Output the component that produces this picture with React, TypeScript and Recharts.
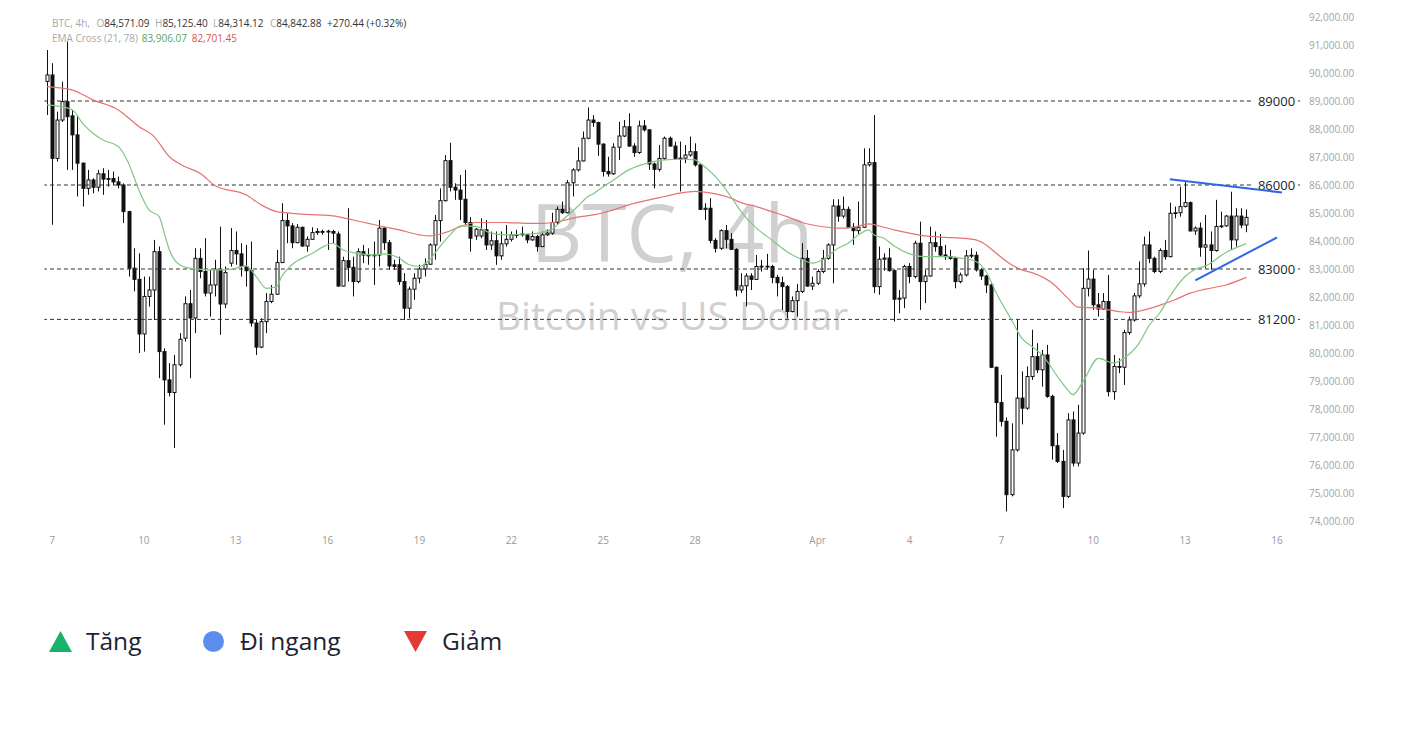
import React from 'react';
import { ComposedChart, Bar, Line, XAxis, YAxis, ReferenceLine } from 'recharts';

// ---------- data ----------
// 4h candles, [open, high, low, close], starting 6 Mar 20:00
const candleOHLC: [number, number, number, number][] = [
  [89700, 90820, 88500, 89930], [89930, 90350, 84580, 86950], [86950, 88620, 86840, 88320], [88320, 89690, 88250, 88980],
  [88980, 91120, 86540, 88440], [88470, 88680, 86540, 87790], [87790, 88500, 85590, 86780], [86780, 86800, 85230, 85880],
  [85880, 86540, 85650, 86180], [86180, 86240, 85700, 85920], [85920, 86540, 85770, 86400], [86400, 86600, 85650, 86210],
  [86210, 86540, 85940, 86230], [86230, 86480, 86000, 86110], [86110, 86300, 85880, 86000], [86000, 86060, 84640, 85050],
  [85050, 85080, 82730, 83030], [83030, 83740, 82200, 82630], [82630, 83560, 80000, 80680], [80680, 82730, 80050, 82020],
  [82020, 82730, 81660, 82250], [82250, 84040, 81180, 83620], [83620, 83800, 79100, 80050], [80050, 80170, 77440, 79040],
  [79040, 79640, 78450, 78590], [78590, 79930, 76610, 79580], [79580, 80710, 79520, 80490], [80530, 82020, 80410, 81760],
  [81760, 82250, 79100, 81250], [81250, 83740, 80710, 83380], [83380, 83740, 82670, 82910], [82910, 84100, 82020, 82140],
  [82140, 82970, 81300, 82430], [82430, 83330, 82020, 82990], [82990, 84510, 80650, 81750], [81750, 83090, 81600, 82870],
  [83210, 84460, 83090, 83660], [83660, 84340, 83150, 83540], [83540, 83920, 82730, 83090], [83090, 83860, 82370, 82940],
  [82940, 83980, 80940, 81070], [81070, 81180, 79930, 80210], [80210, 81240, 80170, 81120], [81120, 82140, 80710, 81840],
  [81840, 82430, 81780, 82100], [82100, 83680, 82080, 83230], [83230, 85350, 83210, 84730], [84730, 84990, 83920, 84540],
  [84540, 84640, 83740, 83940], [83940, 84610, 83920, 84490], [84490, 84510, 83800, 83820], [83820, 84160, 83620, 84060],
  [84060, 84490, 84040, 84300], [84300, 84460, 84220, 84340], [84340, 84400, 84220, 84330], [84330, 84400, 83680, 84350],
  [84340, 84400, 83920, 84280], [84250, 84340, 82370, 82390], [82390, 83440, 82370, 83300], [83300, 85170, 82550, 83060],
  [83060, 83440, 82020, 82550], [82550, 83740, 82490, 83620], [83620, 83860, 83210, 83500], [83500, 83740, 83150, 83480],
  [83480, 83980, 82430, 83500], [83500, 84750, 83090, 84460], [84460, 84490, 83680, 83940], [83940, 84040, 82970, 83110],
  [83150, 83330, 82970, 83090], [83150, 83440, 82430, 82550], [82550, 82850, 81180, 81600], [81600, 82370, 81240, 82280],
  [82280, 82850, 81900, 82670], [82670, 83150, 82490, 83000], [83000, 83380, 82730, 83170], [83170, 83920, 83150, 83860],
  [83860, 84930, 83330, 84730], [84730, 85880, 83980, 85440], [85440, 87070, 85410, 86870], [86870, 87510, 85770, 85920],
  [85920, 86060, 85470, 85820], [85820, 86360, 84750, 85490], [85490, 86540, 84580, 84660], [84660, 84850, 83620, 84100],
  [84180, 84460, 84040, 84420], [84180, 84810, 84100, 84400], [84400, 84750, 83680, 83860], [83860, 84340, 83680, 84010],
  [84010, 84340, 83150, 83470], [83470, 84340, 83330, 83900], [83900, 84570, 83800, 84060], [84060, 84340, 83980, 84220],
  [84220, 84400, 84100, 84230], [84230, 84510, 84160, 84250], [84220, 84250, 83920, 84040], [84040, 84340, 84010, 84160],
  [84160, 84220, 83620, 83800], [83800, 84340, 83790, 84220], [84220, 84400, 84180, 84280], [84280, 85010, 84220, 84660],
  [84660, 85230, 84580, 85130], [85130, 85410, 84970, 85010], [85010, 86180, 84990, 86080], [86080, 86600, 85590, 86540],
  [86540, 87350, 86480, 86860], [86860, 87910, 86840, 87670], [87670, 88770, 87630, 88320], [88320, 88500, 88080, 88230],
  [88230, 88260, 87040, 87460], [87460, 87490, 86300, 86480], [86480, 87010, 86300, 86400], [86400, 87490, 86360, 87350],
  [87350, 88260, 86890, 87750], [87750, 88320, 87710, 88080], [88080, 88560, 87370, 87390], [87390, 87490, 87010, 87160],
  [87160, 88300, 87110, 88110], [88110, 88320, 87910, 87970], [87970, 87990, 86540, 86750], [86750, 86800, 85880, 86560],
  [86560, 87430, 86480, 86950], [86950, 87730, 86890, 87670], [87670, 87730, 87370, 87390], [87390, 87550, 86890, 86950],
  [86950, 87550, 85770, 86960], [86960, 87430, 86780, 87070], [87070, 87730, 87010, 87190], [87190, 87490, 86660, 86720],
  [86720, 86780, 85110, 85130], [85130, 85350, 84750, 85170], [85170, 85530, 83920, 84020], [84020, 84100, 83590, 83740],
  [83740, 84420, 83680, 84370], [84370, 84570, 83740, 84060], [84060, 84280, 83680, 83700], [83700, 83740, 82020, 82250],
  [82250, 82850, 82140, 82400], [82400, 82850, 81660, 82750], [82750, 82850, 82250, 82630], [82630, 83500, 82610, 83090],
  [83090, 83330, 82910, 83100], [83100, 83540, 82970, 83090], [83090, 83150, 82490, 82700], [82700, 82790, 82020, 82510],
  [82510, 82730, 81540, 82370], [82370, 82430, 81240, 81480], [81480, 82020, 81450, 81870], [81870, 82470, 81300, 82200],
  [82200, 83920, 82140, 83380], [83380, 83680, 82370, 82390], [82390, 82730, 82250, 82490], [82490, 82990, 82430, 82910],
  [82910, 83680, 82850, 83380], [83380, 83920, 83330, 83860], [83860, 85490, 82490, 85250], [85250, 85490, 84690, 84890],
  [84890, 85590, 84810, 85130], [85130, 85230, 84460, 84490], [84490, 84640, 83860, 84370], [84370, 85410, 84250, 84490],
  [84490, 87310, 84460, 86720], [86720, 87310, 86660, 86800], [86800, 88500, 82140, 82370], [82370, 83800, 82080, 83350],
  [83350, 83560, 82940, 83390], [83390, 83740, 82910, 82940], [82940, 82990, 81120, 81920], [81920, 82250, 81420, 81960],
  [81960, 83150, 81600, 83090], [83090, 83210, 82490, 82730], [82730, 84010, 82670, 83920], [83920, 84690, 81540, 82550],
  [82550, 82970, 81780, 82750], [82750, 84510, 82730, 83940], [83940, 84340, 83620, 83800], [83800, 84250, 83440, 83500],
  [83500, 83860, 83330, 83440], [83440, 83680, 83330, 83380], [83380, 83440, 82310, 82550], [82550, 82870, 82490, 82790],
  [82790, 83680, 82730, 83470], [83470, 83740, 83390, 83490], [83490, 83620, 82910, 82970], [82970, 83030, 82610, 82750],
  [82750, 82790, 82140, 82430], [82430, 82490, 79460, 79490], [79490, 79520, 77010, 78230], [78230, 79220, 77380, 77560],
  [77560, 77700, 74340, 74940], [74940, 77490, 74880, 76540], [76540, 81180, 76480, 78390], [78390, 79340, 77450, 78030],
  [78030, 79520, 77970, 79160], [79160, 80830, 79040, 79870], [79870, 80350, 79280, 79400], [79400, 80110, 78800, 79930],
  [79930, 80290, 78400, 78450], [78450, 78510, 76190, 76690], [76690, 77140, 76070, 76130], [76130, 76540, 74460, 74880],
  [74880, 77850, 74820, 77610], [77610, 77910, 75950, 76070], [76070, 78150, 75950, 77140], [77140, 83030, 77080, 82310],
  [82310, 83660, 82020, 82640], [82640, 82970, 81540, 81720], [81720, 82140, 81300, 81570], [81570, 82140, 81540, 81840],
  [81840, 82790, 78450, 78620], [78620, 79930, 78330, 79520], [79520, 79810, 79280, 79490], [79490, 80830, 78860, 80730],
  [80730, 81300, 80650, 81180], [81180, 82140, 81120, 82040], [82040, 83270, 81960, 82470], [82470, 84160, 82370, 83860],
  [83860, 84340, 83210, 83380], [83380, 83440, 82850, 82910], [82910, 83740, 82850, 83660], [83660, 84040, 83330, 83440],
  [83440, 85370, 83420, 84990], [84990, 85230, 84810, 85010], [85010, 85940, 84870, 85230], [85230, 86120, 85200, 85370],
  [85370, 85410, 84340, 84360], [84360, 84520, 84220, 84460], [84460, 84660, 83440, 83780], [83780, 84930, 83030, 83860],
  [83860, 84340, 82970, 83660], [83660, 85470, 83620, 84520], [84520, 85050, 84460, 84540], [84540, 84930, 84510, 84890],
  [84890, 85760, 83680, 84040], [84040, 85170, 83800, 84890], [84890, 85170, 84460, 84570], [84571.09, 85125.4, 84314.12, 84842.88],
];

// EMA 21 (green) read at candle indices
const emaFastPoints: [number, number][] = [
  [0, 88860], [2, 88820], [5, 88680], [7, 88200], [9, 87850], [11, 87610], [14, 87370], [16, 86780], [18, 85830],
  [20, 85110], [22, 84870], [23, 84280], [24, 83680], [26, 83150], [28, 83030], [30, 82990], [33, 82970], [36, 82990],
  [39, 83110], [41, 82730], [43, 82310], [45, 82370], [46, 82730], [48, 83150], [52, 83560], [54, 83780], [56, 83920],
  [58, 83680], [61, 83560], [64, 83500], [66, 83540], [69, 83390], [71, 83150], [73, 83090], [75, 83330], [77, 83800],
  [79, 84220], [81, 84540], [84, 84520], [87, 84280], [90, 84220], [94, 84250], [97, 84300], [99, 84420], [101, 84750],
  [104, 85230], [106, 85590], [107, 85680], [109, 85940], [111, 86180], [114, 86540], [118, 86800], [121, 86900],
  [124, 86920], [127, 86900], [128, 86780], [131, 86300], [134, 85590], [136, 85050], [139, 84460], [142, 84040],
  [145, 83620], [148, 83330], [150, 83210], [152, 83330], [155, 83740], [157, 83920], [159, 84220], [161, 84400],
  [162, 84220], [164, 84100], [166, 83820], [169, 83540], [172, 83440], [176, 83440], [179, 83390], [182, 83270],
  [184, 82910], [186, 82140], [189, 81180], [191, 80530], [193, 80230], [195, 79930], [198, 79160], [200, 78680],
  [201, 78510], [203, 78980], [206, 79810], [209, 79640], [211, 79810], [214, 80350], [216, 81000], [218, 81420],
  [220, 82020], [223, 82730], [225, 82990], [227, 83110], [231, 83590], [235, 83906.07],
];

// EMA 78 (red) read at candle indices
const emaSlowPoints: [number, number][] = [
  [0, 89510], [5, 89390], [9, 89040], [14, 88680], [18, 88090], [21, 87730], [24, 87010], [27, 86660], [30, 86420],
  [33, 85970], [39, 85650], [42, 85290], [45, 85050], [48, 84990], [53, 84930], [56, 84900], [60, 84750], [63, 84630],
  [66, 84510], [69, 84400], [73, 84220], [75, 84180], [78, 84300], [81, 84510], [84, 84660], [87, 84660], [90, 84660],
  [94, 84630], [97, 84630], [99, 84660], [101, 84730], [104, 84850], [107, 84930], [109, 85010], [111, 85110],
  [114, 85290], [118, 85470], [121, 85590], [124, 85710], [127, 85770], [131, 85680], [134, 85530], [136, 85370],
  [139, 85230], [142, 85050], [145, 84870], [148, 84660], [152, 84510], [155, 84460], [158, 84490], [161, 84610],
  [164, 84490], [166, 84400], [169, 84280], [172, 84180], [176, 84130], [179, 84100], [182, 84040], [184, 83860],
  [186, 83560], [189, 83150], [191, 82970], [193, 82870], [197, 82490], [200, 81960], [202, 81640], [206, 81600],
  [210, 81480], [212, 81450], [215, 81540], [218, 81700], [221, 81900], [224, 82140], [227, 82280], [231, 82430],
  [235, 82701.45],
];

const dayTickIndex = [1, 19, 37, 55, 73, 91, 109, 127, 151, 169, 187, 205, 223, 241];
const dayTickLabels = ['7', '10', '13', '16', '19', '22', '25', '28', 'Apr', '4', '7', '10', '13', '16'];
const priceTicks = [74000, 75000, 76000, 77000, 78000, 79000, 80000, 81000, 82000, 83000, 84000, 85000, 86000, 87000, 88000, 89000, 90000, 91000, 92000];
const keyLevels = [89000, 86000, 83000, 81200];
const upperTrend = [{ x: 220, y: 86205 }, { x: 242, y: 85730 }];
const lowerTrend = [{ x: 225, y: 82595 }, { x: 241, y: 84125 }];
const legendItems = [
  { label: 'Tăng', kind: 'up' },
  { label: 'Đi ngang', kind: 'flat' },
  { label: 'Giảm', kind: 'down' },
];
const SLOT_COUNT = 246;

// ---------- build rows ----------
const fastMap = new Map(emaFastPoints);
const slowMap = new Map(emaSlowPoints);
const rows = Array.from({ length: SLOT_COUNT }, (_, i) => {
  const k = candleOHLC[i];
  return {
    i,
    o: k ? k[0] : null,
    h: k ? k[1] : null,
    l: k ? k[2] : null,
    c: k ? k[3] : null,
    fast: fastMap.has(i) ? fastMap.get(i) : null,
    slow: slowMap.has(i) ? slowMap.get(i) : null,
  };
});

const FONT = '"Open Sans", "Noto Sans", sans-serif';

const Candle = (props: any) => {
  const { x, y, width, height, payload } = props;
  if (!payload || payload.h == null || x == null || isNaN(y)) return <g />;
  const { o, h, l, c } = payload;
  const top = Math.min(y, y + height);
  const hgt = Math.abs(height);
  const k = h - l > 0 ? hgt / (h - l) : 0;
  const yO = top + (h - o) * k;
  const yC = top + (h - c) * k;
  const cx = Math.round(x + width / 2) + 0.5;
  const up = c >= o;
  const bTop = Math.min(yO, yC);
  const bH = Math.max(Math.abs(yO - yC), 0.8);
  return (
    <g>
      <line x1={cx} x2={cx} y1={top} y2={top + hgt} stroke="#111" strokeWidth={1} />
      <rect x={cx - 1.5} y={bTop} width={3} height={bH} fill={up ? '#fff' : '#111'} stroke="#111" strokeWidth={1} />
    </g>
  );
};

const LevelTag = (props: any) => {
  const vb = props.viewBox || {};
  const right = (vb.x ?? 0) + (vb.width ?? 0);
  const y = vb.y ?? 0;
  return (
    <g>
      <rect x={right - 47} y={y - 8} width={45} height={16} fill="#fff" />
      <text x={right - 42} y={y + 4.5} fontSize={13} fill="#222" fontFamily={FONT}>{props.text}</text>
    </g>
  );
};

const XTick = (props: any) => {
  const { x, y, payload } = props;
  const idx = dayTickIndex.indexOf(payload.value);
  return (
    <text x={x} y={y + 16} textAnchor="middle" fontSize={10} fill="#9a9a9a" fontFamily={FONT}>
      {idx >= 0 ? dayTickLabels[idx] : ''}
    </text>
  );
};

const YTick = (props: any) => {
  const { x, y, payload } = props;
  const v = Number(payload.value);
  return (
    <text x={x} y={y + 3.5} textAnchor="start" fontSize={10} fill="#a3a3a3" fontFamily={FONT}>
      {v.toLocaleString('en-US', { minimumFractionDigits: 2, maximumFractionDigits: 2 })}
    </text>
  );
};

export default function App() {
  return (
    <div style={{ position: 'relative', width: 1386, height: 714, fontFamily: FONT }}>
      <svg width={1386} height={560} style={{ position: 'absolute', left: 0, top: 0 }}>
        <text x={664} y={254} textAnchor="middle" fontSize={80} fill="#d0d0d0" fontFamily={FONT}>BTC, 4h</text>
        <text x={664} y={322} textAnchor="middle" fontSize={39} fill="#d0d0d0" fontFamily={FONT}>Bitcoin vs US Dollar</text>
      </svg>
      <div style={{ position: 'absolute', left: 0, top: 0 }}>
        <ComposedChart
          width={1386}
          height={560}
          data={rows}
          margin={{ top: 2, right: 14.05, bottom: 10, left: 36.35 }}
          barCategoryGap={0}
        >
          <XAxis
            dataKey="i"
            type="category"
            ticks={dayTickIndex}
            interval={0}
            tick={<XTick />}
            tickSize={0}
            tickMargin={0}
            axisLine={false}
            tickLine={false}
            height={30}
          />
          <YAxis
            orientation="right"
            type="number"
            domain={[73750, 92250]}
            ticks={priceTicks}
            allowDataOverflow
            tick={<YTick />}
            tickSize={0}
            tickMargin={9}
            axisLine={false}
            tickLine={false}
            width={80}
          />
          {keyLevels.map((lvl) => (
            <ReferenceLine
              key={lvl}
              y={lvl}
              stroke="#333"
              strokeWidth={1}
              strokeDasharray="4 3"
              label={<LevelTag text={String(lvl)} />}
            />
          ))}
          <Line dataKey="slow" type="monotone" stroke="#e57373" strokeWidth={1.2} dot={false} activeDot={false} connectNulls isAnimationActive={false} />
          <Line dataKey="fast" type="monotone" stroke="#81c784" strokeWidth={1.2} dot={false} activeDot={false} connectNulls isAnimationActive={false} />
          <Bar
            dataKey={(d: any) => (d.h == null ? null : [d.l, d.h])}
            shape={<Candle />}
            isAnimationActive={false}
          />
          <ReferenceLine segment={upperTrend} stroke="#2e67e6" strokeWidth={2} ifOverflow="visible" />
          <ReferenceLine segment={lowerTrend} stroke="#2e67e6" strokeWidth={2} ifOverflow="visible" />
        </ComposedChart>
      </div>
      <svg width={1386} height={714} style={{ position: 'absolute', left: 0, top: 0, pointerEvents: 'none' }}>
        <text y={19} fontSize={10} fontFamily={FONT}>
          <tspan x={44} fill="#a8a8a8">BTC, 4h,</tspan>
          <tspan x={88.5} fill="#a8a8a8">O</tspan><tspan fill="#333">84,571.09</tspan>
          <tspan x={147} fill="#a8a8a8">H</tspan><tspan fill="#333">85,125.40</tspan>
          <tspan x={205} fill="#a8a8a8">L</tspan><tspan fill="#333">84,314.12</tspan>
          <tspan x={262} fill="#a8a8a8">C</tspan><tspan fill="#333">84,842.88</tspan>
          <tspan x={319} fill="#333">+270.44 (+0.32%)</tspan>
        </text>
        <text y={33.7} fontSize={10} fontFamily={FONT}>
          <tspan x={44} fill="#a8a8a8">EMA Cross (21, 78)</tspan>
          <tspan x={133.7} fill="#5aa463">83,906.07</tspan>
          <tspan x={183.7} fill="#d9534f">82,701.45</tspan>
        </text>
        {legendItems.map((it, k) => {
          const iconX = [41, 195, 396][k];
          const textX = [78, 232, 434][k];
          return (
            <g key={it.label}>
              {it.kind === 'up' && <polygon points={`${iconX},644 ${iconX + 23},644 ${iconX + 11.5},623`} fill="#16b46a" />}
              {it.kind === 'flat' && <circle cx={iconX + 10.5} cy={633.5} r={10.5} fill="#5b8def" />}
              {it.kind === 'down' && <polygon points={`${iconX},623 ${iconX + 23},623 ${iconX + 11.5},644`} fill="#e53935" />}
              <text x={textX} y={642} fontSize={24.5} fill="#1c2333" fontFamily={FONT}>{it.label}</text>
            </g>
          );
        })}
      </svg>
    </div>
  );
}
